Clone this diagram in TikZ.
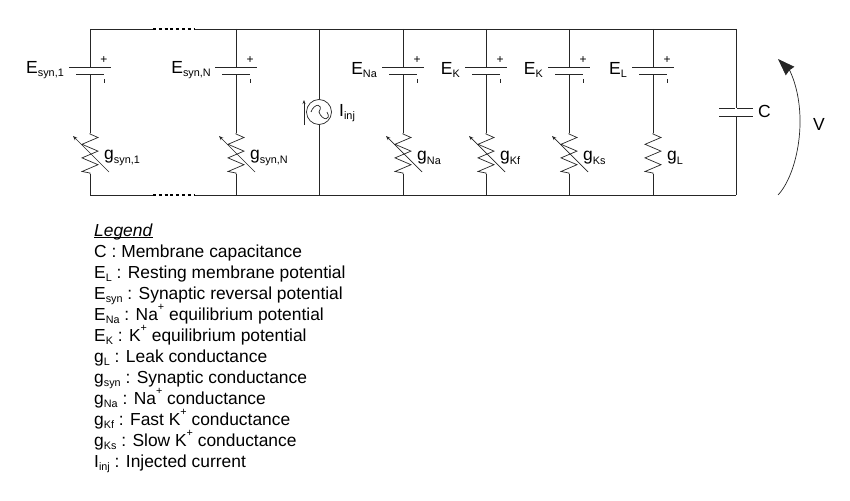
\documentclass[tikz,border=0pt]{standalone}
\usepackage{fontspec}
\setmainfont{Liberation Sans}
\usetikzlibrary{arrows.meta}
\newcommand{\low}[1]{\raisebox{-.35ex}{\scalebox{.62}{#1}}}
\newcommand{\up}[1]{\raisebox{1ex}{\scalebox{.62}{#1}}}
\tikzset{
  wire/.style={draw=black!85,line width=.7pt},
  lab/.style={inner sep=0pt,font=\fontsize{17.5}{20}\selectfont},
  small/.style={inner sep=0pt,font=\fontsize{12}{12}\selectfont}
}
\begin{document}
\begin{tikzpicture}[x=1pt,y=-1pt]

      \useasboundingbox (0,0) rectangle (850,500);

      % corners of the loop
      \coordinate (tl) at (90,29);
      \coordinate (tr) at (736,29);
      \coordinate (bl) at (90,195);
      \coordinate (br) at (736,195);
      \coordinate (d1) at (153,29);
      \coordinate (d2) at (194,29);
      \coordinate (d3) at (153,195);
      \coordinate (d4) at (194,195);

      \draw[wire] (tl) -- (d1);
      \draw[wire] (d2) -- (tr);
      \draw[wire] (bl) -- (d3);
      \draw[wire] (d4) -- (br);
      \draw[wire] (tr) -- (br);
      \draw[line width=1.3pt,dash pattern=on 3pt off 2.8pt] (d1) -- (d2);
      \draw[line width=1.3pt,dash pattern=on 3pt off 2.8pt] (d3) -- (d4);

      % battery and conductance branches
      \foreach \x/\n in {90/a,236/b,403/c,486/d,569/e,653/f}{
        \coordinate (top\n) at (\x,29);
        \coordinate (bot\n) at (\x,195);
        \coordinate (pp\n) at (\x,67);
        \coordinate (pm\n) at (\x,74.5);
        \coordinate (rt\n) at (\x,133);
        \coordinate (rb\n) at (\x,174);
        \draw[wire] (top\n) -- (pp\n);
        \draw[wire] (pm\n) -- (rt\n);
        \draw[wire] (rb\n) -- (bot\n);
        \draw[wire] ([xshift=-21pt]pp\n) -- ([xshift=21pt]pp\n);
        \draw[wire] ([xshift=-14pt]pm\n) -- ([xshift=14pt]pm\n);
        \draw[wire] (rt\n) -- ++(0,1) -- ++(8,3.5) -- ++(-16,6.8) -- ++(16,6.8)
          -- ++(-16,6.8) -- ++(16,6.8) -- ++(-16,6.8) -- ++(8,1.5) -- (rb\n);
        \node[small] (plus\n) at (\x+14,60) {+};
        \coordinate (m1\n) at (\x+14,79);
        \coordinate (m2\n) at (\x+14,83);
        \draw[wire] (m1\n) -- (m2\n);
      }

      % variable conductances
      \foreach \x/\n in {90/a,236/b,403/c,486/d,569/e}{
        \coordinate (va\n) at (\x+19,172);
        \coordinate (vb\n) at (\x-17,136);
        \draw[wire,-{Stealth[length=4.5pt,width=3.5pt]}] (va\n) -- (vb\n);
      }

      % injected current
      \node[circle,wire,minimum size=25pt,inner sep=0pt] (src) at (319,112) {};
      \coordinate (topi) at (319,29);
      \coordinate (boti) at (319,195);
      \coordinate (ia) at (304,125);
      \coordinate (ib) at (304,100);
      \draw[wire] (topi) -- (src);
      \draw[wire] (src) -- (boti);
      \draw[wire,-{Stealth[length=4pt,width=3pt]}] (ia) -- (ib);
      \draw[wire] ([xshift=-8pt]src.center) .. controls +(3,-9) and +(5,-9) .. (src.center)
        .. controls +(3,9) and +(5,9) .. ([xshift=8pt]src.center);

      % membrane capacitance
      \coordinate (ca) at (736,108);
      \coordinate (cb) at (736,116);
      \draw[wire] ([xshift=-17pt]ca) -- ([xshift=17pt]ca);
      \draw[wire] ([xshift=-17pt]cb) -- ([xshift=17pt]cb);
      \fill[white] (735,108.5) rectangle (737,115.5);

      % membrane voltage
      \coordinate (va) at (778,195);
      \coordinate (vc) at (790,71);
      \coordinate (vb) at (778,59);
      \draw[wire,-{Stealth[length=17pt,width=12pt,inset=1pt]}] (va) .. controls (797,175) and (810,115) .. (vc) -- (vb);

      % labels
      \node[lab,anchor=east] (esyna) at (64,70) {E\low{syn,1}};
      \node[lab,anchor=east] (esynb) at (211,70) {E\low{syn,N}};
      \node[lab,anchor=east] (ena) at (377,70) {E\low{Na}};
      \node[lab,anchor=east] (ekd) at (460,70) {E\low{K}};
      \node[lab,anchor=east] (eke) at (543,70) {E\low{K}};
      \node[lab,anchor=east] (el) at (627,70) {E\low{L}};
      \node[lab,anchor=west] (gsyna) at (104,158) {g\low{syn,1}};
      \node[lab,anchor=west] (gsynb) at (250,158) {g\low{syn,N}};
      \node[lab,anchor=west] (gna) at (417,158) {g\low{Na}};
      \node[lab,anchor=west] (gkf) at (500,158) {g\low{Kf}};
      \node[lab,anchor=west] (gks) at (583,158) {g\low{Ks}};
      \node[lab,anchor=west] (gl) at (667,158) {g\low{L}};
      \node[lab,anchor=west] (iinj) at (339,113) {I\low{inj}};
      \node[lab,anchor=west] (clab) at (758,111) {C};
      \node[lab] (vlab) at (819,124) {V};

      \node[anchor=north west,inner sep=0pt,align=left,
            font=\fontsize{17.4}{21}\selectfont] (legend) at (94,224) {%
        \vphantom{L}\underline{\smash{\textit{Legend}}}\\
        C : Membrane capacitance\\
        E\low{L} : Resting membrane potential\\
        E\low{syn} : Synaptic reversal potential\\
        E\low{Na} : Na\up{+} equilibrium potential\\
        E\low{K} : K\up{+} equilibrium potential\\
        g\low{L} : Leak conductance\\
        g\low{syn} : Synaptic conductance\\
        g\low{Na} : Na\up{+} conductance\\
        g\low{Kf} : Fast K\up{+} conductance\\
        g\low{Ks} : Slow K\up{+} conductance\\
        I\low{inj} : Injected current};

    \end{tikzpicture}
\end{document}
